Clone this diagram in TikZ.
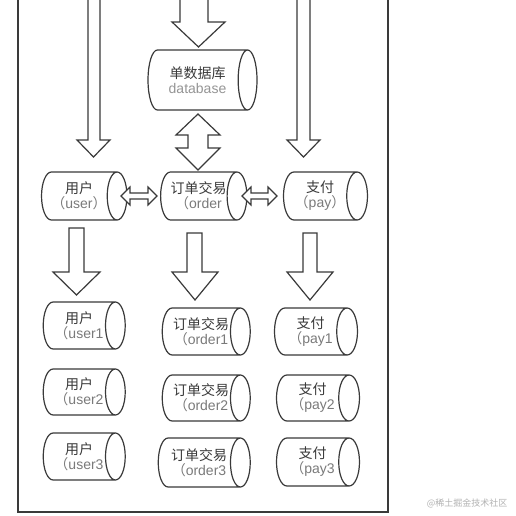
\documentclass[tikz,border=0pt]{standalone}
\usepackage{fontspec}
\setmainfont{Liberation Sans}
\newfontfamily\cjk{Noto Sans CJK SC}
\usetikzlibrary{shapes.geometric}
\definecolor{linec}{HTML}{3A3A3A}
\definecolor{latc}{HTML}{7A7A7A}
\tikzset{
  dbshape/.style={cylinder, draw=linec, line width=1.2pt, shape aspect=0.7, inner sep=0pt,
    align=center, font=\fontsize{14}{15}\selectfont, text=linec, fill=white},
  barrow/.style={draw=linec, line width=1.2pt, fill=white, line join=miter},
  frame/.style={draw=linec, line width=1.2pt},
  sz/.style 2 args={minimum height=#1pt, minimum width=#2pt},
}
\newcommand{\blkdown}[7]{%
  \draw[barrow] (#1,#3) -- (#1,#4) -- (#5,#4) -- ({(#5+#6)/2},#7) -- (#6,#4) -- (#2,#4) -- (#2,#3) -- cycle;}
\newcommand{\lbl}[2]{{\cjk #1}\\{\color{latc}{\cjk （}#2}}
\begin{document}
\begin{tikzpicture}[x=1pt,y=-1pt]
\useasboundingbox (0,0) rectangle (515,516);
\clip (0,0) rectangle (515,516);
\fill[white] (0,0) rectangle (515,516);
% outer frame
\draw[frame] (18,-5) rectangle (388,512);
% top arrows
\blkdown{88}{100}{-10}{140}{77}{110}{157}
\blkdown{180}{208}{-10}{22}{172}{225}{47}
\blkdown{297}{310}{-10}{140}{287}{320}{157}
% cylinders
\node[dbshape, sz={109}{60}] (db) at (197.5,80)
  {{\cjk 单数据库}\\{\color{latc!80}database}};
\node[dbshape, sz={82}{48}] (user) at (79,196)
  {{\cjk 用户}\\{\color{latc}{\cjk （}user{\cjk ）}}};
\node[dbshape, sz={83}{48}] (order) at (198.5,196)
  {\lbl{订单交易}{order}};
\node[dbshape, sz={84}{48}] (pay) at (320,196)
  {{\cjk 支付}\\{\color{latc}{\cjk （}pay{\cjk ）}}};
\node[dbshape, sz={82}{47}] (user1) at (79,325.5) {\lbl{用户}{user1}};
\node[dbshape, sz={88}{47}] (order1) at (201,331.5) {\lbl{订单交易}{order1}};
\node[dbshape, sz={83}{47}] (pay1) at (310.5,331.5) {\lbl{支付}{pay1}};
\node[dbshape, sz={82}{46}] (user2) at (79,392) {\lbl{用户}{user2}};
\node[dbshape, sz={88}{46}] (order2) at (201,398) {\lbl{订单交易}{order2}};
\node[dbshape, sz={83}{46}] (pay2) at (312.5,398) {\lbl{支付}{pay2}};
\node[dbshape, sz={82}{47}] (user3) at (79,456.5) {\lbl{用户}{user3}};
\node[dbshape, sz={92}{49}] (order3) at (199,462.5) {\lbl{订单交易}{order3}};
\node[dbshape, sz={83}{48}] (pay3) at (312.5,462) {\lbl{支付}{pay3}};
% double arrow db <-> order
\draw[barrow] (198,114) -- (220,135) -- (208,135) -- (208,148) -- (220,148) -- (198,170)
  -- (176,148) -- (188,148) -- (188,135) -- (176,135) -- cycle;
% horizontal double arrows
\draw[barrow] (121,196) -- (130,187) -- (130,193) -- (148,193) -- (148,187) -- (157,196)
  -- (148,205) -- (148,199) -- (130,199) -- (130,205) -- cycle;
\draw[barrow] (242,196) -- (251,187) -- (251,193) -- (268,193) -- (268,187) -- (277,196)
  -- (268,205) -- (268,199) -- (251,199) -- (251,205) -- cycle;
% down arrows to shards
\blkdown{69}{84}{228}{272}{53}{100}{295}
\blkdown{187}{202}{233}{272}{172}{218}{300}
\blkdown{303}{317}{233}{272}{287}{333}{300}
% watermark
\node[text=gray!60, font=\cjk\fontsize{9}{10}\selectfont, anchor=east] (wm) at (511,503) {@稀土掘金技术社区};
\end{tikzpicture}
\end{document}
